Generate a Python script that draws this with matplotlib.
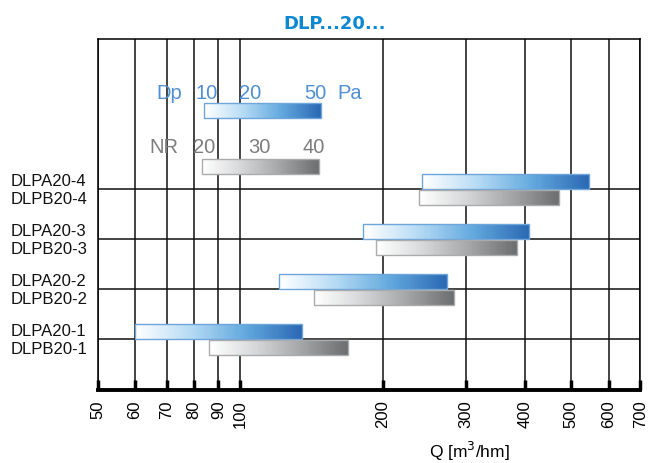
import numpy as np
import matplotlib.pyplot as plt
from matplotlib.colors import LinearSegmentedColormap

plt.rcParams['font.family'] = ['Liberation Sans', 'DejaVu Sans']

# data (Q in m3/h)
models_a = ['DLPA20-1', 'DLPA20-2', 'DLPA20-3', 'DLPA20-4']
models_b = ['DLPB20-1', 'DLPB20-2', 'DLPB20-3', 'DLPB20-4']
dlpa_min = [60, 121, 182, 242]
dlpa_max = [135, 273, 408, 546]
dlpb_min = [86, 143, 194, 238]
dlpb_max = [169, 283, 384, 472]
dp_range = [84, 148]
nr_range = [83, 147]
dp_labels = ['10', '20', '50']
nr_labels = ['20', '30', '40']
q_ticks = [50, 60, 70, 80, 90, 100, 200, 300, 400, 500, 600, 700]

blue = LinearSegmentedColormap.from_list('b', ['#ffffff', '#b5daf4', '#62a8de', '#2b69b3'])
grey = LinearSegmentedColormap.from_list('g', ['#ffffff', '#d6d7d8', '#a3a5a7', '#6c6e70'])


def grad_bar(ax, x0, x1, y0, h, cmap, edge):
    xs = np.geomspace(x0, x1, 80)
    cols = cmap(np.linspace(0, 1, len(xs) - 1))
    ax.barh(y0, np.diff(xs), left=xs[:-1], height=h, align='edge',
            color=cols, linewidth=0, zorder=3)
    ax.barh(y0, x1 - x0, left=x0, height=h, align='edge', fill=False,
            edgecolor=edge, linewidth=1.0, zorder=4)


fig = plt.figure(figsize=(6.48, 4.64), dpi=100)
left, right = 97.5, 640.5
ax = fig.add_axes([left / 648, 1 - 390.5 / 464, (right - left) / 648, (390.5 - 40) / 464])
ax.set_xscale('log')
ax.set_xlim(50, 700)
ax.set_ylim(0, 7)

for q in q_ticks:
    ax.axvline(q, color='#111111', lw=1.1, zorder=1)
for k in range(1, 5):
    ax.axhline(k, color='#111111', lw=1.1, zorder=1)

lab_x = (11 - left) / (right - left)
for i in range(4):
    sep = i + 1
    grad_bar(ax, dlpa_min[i], dlpa_max[i], sep, 0.31, blue, '#6ea6dc')
    grad_bar(ax, dlpb_min[i], dlpb_max[i], sep - 0.02, -0.29, grey, '#a9abad')
    ax.text(lab_x, sep + 0.17, models_a[i], transform=ax.get_yaxis_transform(),
            ha='left', va='center', fontsize=12, color='#111111')
    ax.text(lab_x, sep - 0.18, models_b[i], transform=ax.get_yaxis_transform(),
            ha='left', va='center', fontsize=12, color='#111111')

# scale legend bars
grad_bar(ax, dp_range[0], dp_range[1], 5.43, 0.29, blue, '#6ea6dc')
grad_bar(ax, nr_range[0], nr_range[1], 4.31, 0.29, grey, '#a9abad')
dp_col = '#4f8fd3'
nr_col = '#7d7d7d'
fs = 14.5
ax.text(71, 5.93, 'Dp', color=dp_col, fontsize=fs, ha='center', va='center')
for x, s in zip([85, 105, 144], dp_labels):
    ax.text(x, 5.93, s, color=dp_col, fontsize=fs, ha='center', va='center')
ax.text(170, 5.93, 'Pa', color=dp_col, fontsize=fs, ha='center', va='center')
ax.text(69, 4.86, 'NR', color=nr_col, fontsize=fs, ha='center', va='center')
for x, s in zip([84, 110, 143], nr_labels):
    ax.text(x, 4.86, s, color=nr_col, fontsize=fs, ha='center', va='center')

ax.set_xticks(q_ticks)
ax.set_xticklabels([str(q) for q in q_ticks], rotation=90, fontsize=12)
ax.xaxis.set_minor_locator(plt.NullLocator())
ax.tick_params(axis='x', direction='in', length=7, width=2.5, pad=7, color='#000000')
ax.set_yticks([])
for side in ['top', 'left', 'right']:
    ax.spines[side].set_linewidth(1.1)
ax.spines['bottom'].set_linewidth(2.8)

fig.text(469 / 648, 1 - 451 / 464, 'Q [m$^3$/hm]', ha='center', va='center', fontsize=12.5)
fig.text(335 / 648, 1 - 24 / 464, 'DLP...20...', ha='center', va='center', fontsize=13,
         fontweight='bold', color='#0a88d2', family=['Liberation Sans Narrow', 'DejaVu Sans'])

fig.savefig('out.png', dpi=100)
